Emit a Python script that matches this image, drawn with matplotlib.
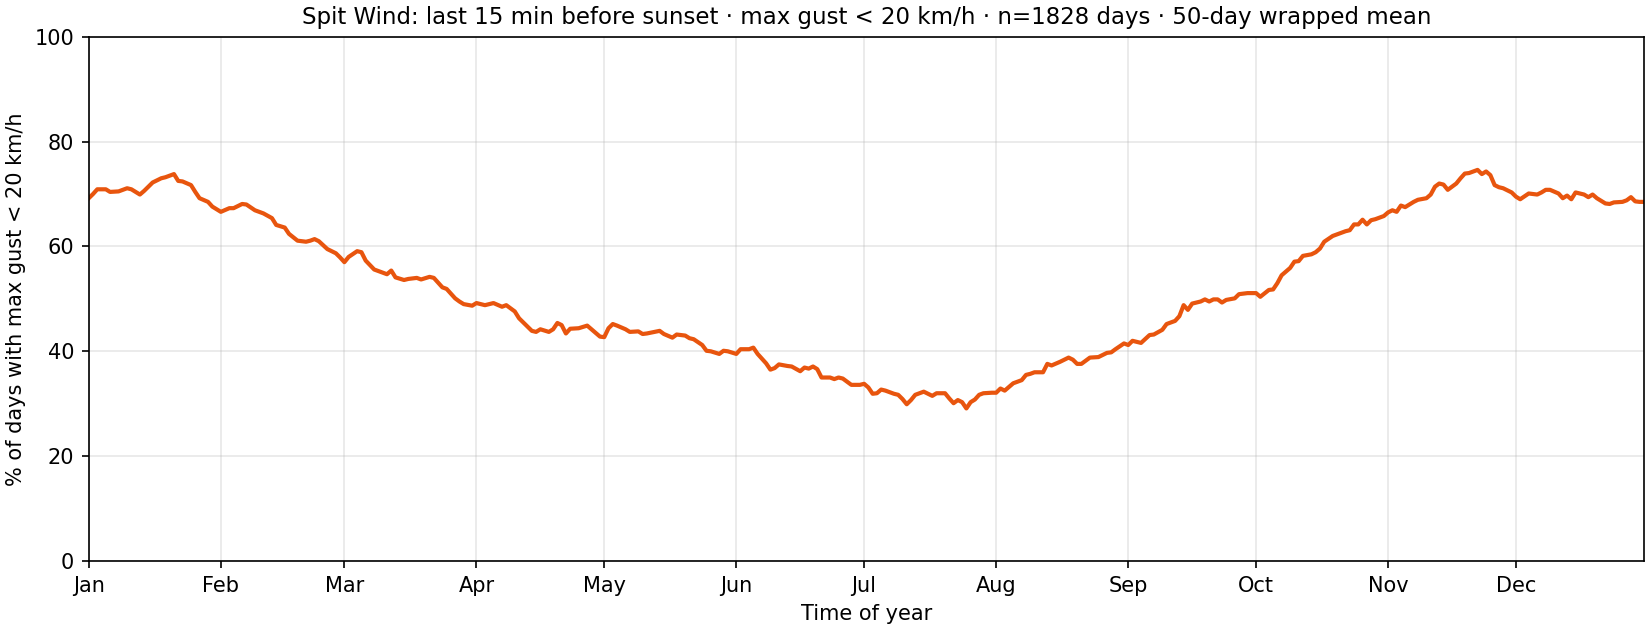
import numpy as np
import matplotlib
matplotlib.use("Agg")
import matplotlib.pyplot as plt

# day of year (leap-year calendar, 1..366) and % of calm days
days = [1, 2, 3, 5, 6, 8, 10, 11, 13, 14, 16, 18, 19, 21, 22, 23, 25, 26, 27, 29,
        30, 32, 34, 35, 37, 38, 40, 42, 44, 45, 47, 48, 50, 52, 53, 54, 55, 57, 59, 60,
        61, 62, 64, 65, 66, 68, 70, 71, 72, 73, 75, 76, 78, 79, 81, 82, 84, 85, 86, 87,
        88, 89, 91, 92, 94, 96, 98, 99, 101, 102, 103, 105, 106, 107, 109, 110, 111, 112, 113, 114,
        116, 118, 119, 121, 122, 123, 124, 125, 127, 128, 130, 131, 132, 135, 136, 138, 139, 141, 142, 143,
        145, 146, 147, 149, 150, 151, 153, 154, 156, 157, 158, 160, 161, 162, 163, 165, 166, 168, 169, 170,
        171, 172, 173, 175, 176, 177, 178, 179, 180, 182, 183, 184, 185, 186, 187, 188, 190, 191, 192, 193,
        194, 195, 197, 198, 199, 200, 202, 203, 204, 205, 206, 207, 208, 209, 210, 211, 213, 214, 215, 216,
        217, 218, 220, 221, 222, 223, 225, 226, 227, 229, 231, 232, 233, 234, 236, 238, 240, 241, 242, 244,
        245, 246, 248, 250, 251, 253, 254, 256, 257, 258, 259, 260, 262, 263, 264, 265, 266, 267, 268, 270,
        271, 273, 275, 276, 278, 279, 280, 281, 283, 284, 285, 286, 288, 289, 290, 291, 293, 294, 296, 297,
        298, 299, 300, 301, 302, 303, 305, 306, 307, 308, 309, 310, 312, 313, 315, 316, 317, 318, 319, 320,
        321, 322, 323, 324, 325, 327, 328, 329, 330, 331, 332, 333, 335, 336, 337, 339, 341, 342, 343, 344,
        346, 347, 348, 349, 350, 352, 353, 354, 355, 357, 358, 359, 361, 362, 363, 364, 365, 366]

pct = [69.2, 70.0, 70.9, 70.9, 70.4, 70.5, 71.1, 70.9, 69.9, 70.6, 72.2, 73.0, 73.2, 73.8, 72.5, 72.4, 71.7, 70.4, 69.2, 68.5,
       67.6, 66.6, 67.3, 67.3, 68.1, 68.0, 66.9, 66.3, 65.4, 64.1, 63.6, 62.4, 61.1, 60.9, 61.1, 61.4, 61.0, 59.5, 58.7, 57.9,
       57.0, 58.0, 59.1, 58.9, 57.3, 55.6, 55.0, 54.7, 55.4, 54.1, 53.6, 53.8, 54.0, 53.7, 54.2, 54.0, 52.2, 51.9, 51.0, 50.1,
       49.5, 49.0, 48.7, 49.2, 48.8, 49.2, 48.5, 48.8, 47.6, 46.3, 45.5, 43.9, 43.7, 44.2, 43.7, 44.2, 45.4, 45.0, 43.4, 44.3,
       44.4, 44.9, 44.2, 42.8, 42.7, 44.4, 45.2, 44.9, 44.2, 43.7, 43.8, 43.3, 43.4, 43.9, 43.3, 42.6, 43.2, 43.0, 42.5, 42.3,
       41.2, 40.1, 40.0, 39.5, 40.1, 40.0, 39.5, 40.4, 40.4, 40.7, 39.5, 37.7, 36.5, 36.8, 37.5, 37.2, 37.1, 36.2, 36.9, 36.7,
       37.1, 36.6, 35.0, 35.0, 34.7, 35.0, 34.8, 34.2, 33.6, 33.6, 33.8, 33.1, 31.9, 32.0, 32.7, 32.5, 31.9, 31.7, 30.9, 29.9,
       30.7, 31.7, 32.3, 31.9, 31.5, 32.0, 32.0, 31.0, 30.1, 30.7, 30.3, 29.1, 30.3, 30.8, 31.7, 32.0, 32.1, 32.1, 32.9, 32.5,
       33.2, 33.9, 34.5, 35.5, 35.7, 36.0, 36.0, 37.6, 37.3, 38.0, 38.8, 38.4, 37.6, 37.6, 38.8, 38.9, 39.7, 39.8, 40.4, 41.5,
       41.2, 42.0, 41.6, 43.1, 43.2, 44.1, 45.2, 45.8, 46.7, 48.8, 47.9, 49.1, 49.5, 49.9, 49.5, 49.9, 49.9, 49.3, 49.8, 50.1,
       50.9, 51.1, 51.1, 50.4, 51.7, 51.8, 53.0, 54.5, 55.9, 57.1, 57.2, 58.2, 58.5, 58.9, 59.6, 60.9, 62.0, 62.3, 62.9, 63.1,
       64.2, 64.2, 65.1, 64.2, 65.0, 65.2, 65.8, 66.5, 66.9, 66.6, 67.8, 67.5, 68.5, 68.9, 69.2, 69.9, 71.4, 72.0, 71.8, 70.8,
       71.4, 72.0, 73.0, 73.9, 74.0, 74.6, 73.8, 74.3, 73.6, 71.7, 71.3, 71.1, 70.3, 69.5, 69.0, 70.1, 69.9, 70.3, 70.8, 70.8,
       70.1, 69.2, 69.7, 69.0, 70.3, 69.9, 69.4, 69.9, 69.2, 68.2, 68.1, 68.4, 68.5, 68.8, 69.4, 68.6, 68.5, 68.5]

month_starts = [1, 32, 61, 92, 122, 153, 183, 214, 245, 275, 306, 336]
month_labels = ['Jan', 'Feb', 'Mar', 'Apr', 'May', 'Jun',
                'Jul', 'Aug', 'Sep', 'Oct', 'Nov', 'Dec']

fig, ax = plt.subplots(figsize=(11, 4.2), dpi=150)
fig.subplots_adjust(left=0.0538, right=0.9962, bottom=0.1095, top=0.9417)

ax.plot(days, pct, color='#e8550e', linewidth=2)

ax.set_xlim(1, 366)
ax.set_ylim(0, 100)
ax.set_xticks(month_starts)
ax.set_xticklabels(month_labels)
ax.grid(True, alpha=0.3)

ax.set_title('Spit Wind: last 15 min before sunset \u00b7 max gust < 20 km/h \u00b7 '
             'n=1828 days \u00b7 50-day wrapped mean', fontsize=11)
ax.set_xlabel('Time of year')
ax.set_ylabel('% of days with max gust < 20 km/h')

plt.savefig('out.png', dpi=150)
